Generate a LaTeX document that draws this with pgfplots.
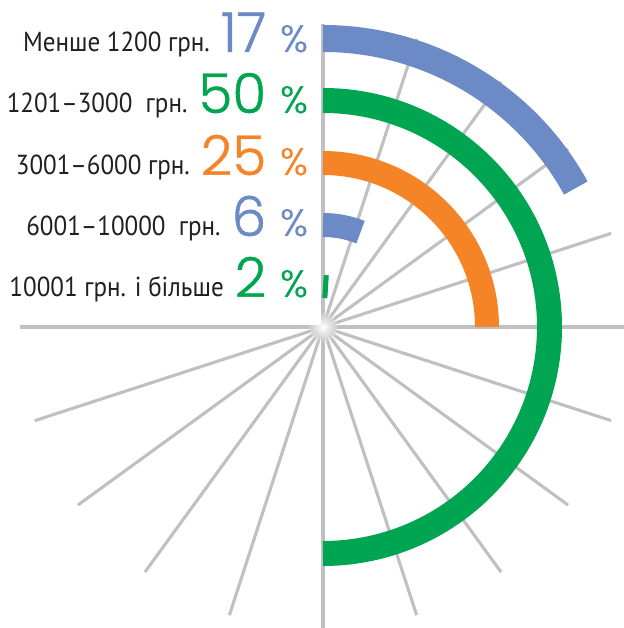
\documentclass[border=0pt]{standalone}
\usepackage{fontspec}
\setmainfont{PT Sans}[FakeStretch=0.91]
\newfontfamily\numfont{Poppins}[UprightFont=* Light, FakeBold=0.8]
\usepackage{pgfplots}
\pgfplotsset{compat=1.18}
\usetikzlibrary{fadings}
\tikzfading[name=centreglow, inner color=transparent!0, outer color=transparent!100]
\definecolor{cblue}{HTML}{6B8AC6}
\definecolor{cgreen}{HTML}{00A551}
\definecolor{corange}{HTML}{F48426}
\definecolor{cspoke}{HTML}{C0C0C2}
\definecolor{ctext}{HTML}{231F20}

% one row: label, number, colour
\newcommand{\rowlabel}[4]{%
  \node[anchor=base east, inner sep=0pt, text=ctext] at (axis cs:-15,#1)
    {{\fontsize{27.5}{27.5}\selectfont #2}\hspace{11pt}{\color{#4}\numfont\fontsize{55}{55}\selectfont #3\hspace{14pt}\fontsize{38}{38}\selectfont\%}};}

\begin{document}
\begin{tikzpicture}
\begin{axis}[
    x=1pt, y=1pt,
    xmin=-323, xmax=300, ymin=-301, ymax=327,
    hide axis, clip=false,
  ]
  \coordinate (bl) at (axis cs:-323,-301);
  \coordinate (tr) at (axis cs:300,327);
  % spokes every 18 degrees, none in the upper left quarter
  \pgfplotsinvokeforeach{0,18,36,54,72,90,198,216,234,252,270,288,306,324,342}{
    \draw[cspoke, line width=3.1pt] (axis cs:0,0) -- (axis cs:{303*cos(#1)},{303*sin(#1)});
  }
  \draw[cspoke, line width=3.1pt] (axis cs:-303,0) -- (axis cs:300,0);
  \fill[white, path fading=centreglow] (axis cs:0,0) circle[radius=16pt];
  % arcs: share of 360 degrees, clockwise from the top
  \draw[cblue,   line width=27pt] (axis cs:0,288.5) arc[start angle=90, end angle={90-3.6*17}, radius=288.5pt];
  \draw[cgreen,  line width=25pt] (axis cs:0,226.5) arc[start angle=90, end angle={90-3.6*50}, radius=226.5pt];
  \draw[corange, line width=24pt] (axis cs:0,164) arc[start angle=90, end angle={90-3.6*25}, radius=164pt];
  \draw[cblue,   line width=24pt] (axis cs:0,102) arc[start angle=90, end angle={90-3.6*6}, radius=102pt];
  \draw[cgreen,  line width=23pt] (axis cs:0,40.5)  arc[start angle=90, end angle={90-3.6*2}, radius=40.5pt];
  \rowlabel{275}{Менше 1200 грн.}{17}{cblue}
  \rowlabel{214}{1201–3000\ \ грн.}{50}{cgreen}
  \rowlabel{152}{3001–6000 грн.}{25}{corange}
  \rowlabel{91}{6001–10000\ \ грн.}{6}{cblue}
  \rowlabel{30}{10001 грн. і більше}{2}{cgreen}
\end{axis}
\pgfresetboundingbox
\path (bl) rectangle (tr);
\end{tikzpicture}
\end{document}
